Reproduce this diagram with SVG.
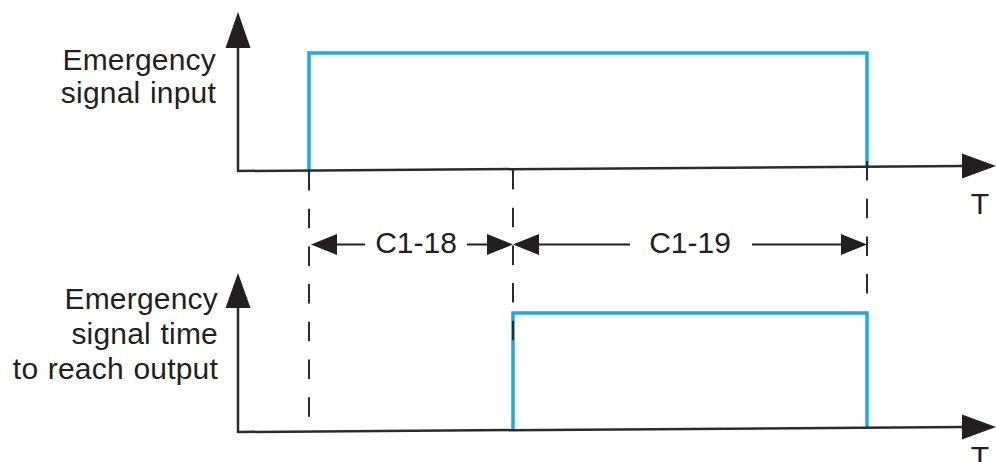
<svg xmlns="http://www.w3.org/2000/svg" width="996" height="462" viewBox="0 0 996 462">
<style>
  .axis { stroke: #2b2b2b; stroke-width: 2.5; fill: none; }
  .head { fill: #231f20; }
  .sig { stroke: #1ea9e1; stroke-width: 3.5; fill: none; stroke-linejoin: miter; }
  .dash { stroke: #2b2b2b; stroke-width: 2; fill: none; stroke-dasharray: 19.5 18.2; }
  .dim { stroke: #231f20; stroke-width: 2; fill: none; }
  .lbl { font-family: "Liberation Sans", Arial, sans-serif; font-size: 30px; fill: #231f20; letter-spacing: 0.2px; word-spacing: 1px; }
  .dl { font-family: "Liberation Sans", Arial, sans-serif; font-size: 30px; fill: #231f20; }
</style>
<rect width="996" height="462" fill="#ffffff"/>

<g id="signals">
  <polyline class="sig" points="309,171 309,53 867,53 867,166"/>
  <polyline class="sig" points="513,430 513,313 867,313 867,427"/>
</g>

<g id="axis-top">
  <line class="axis" x1="238" y1="172" x2="238" y2="44"/>
  <polygon class="head" points="238,12 225.5,48 250.5,48"/>
  <line class="axis" x1="237" y1="171" x2="964" y2="166"/>
  <polygon class="head" points="996,166 962,153.5 962,178.5"/>
  <text class="dl" x="980" y="214" text-anchor="middle">T</text>
</g>

<g id="axis-bottom">
  <line class="axis" x1="238" y1="433" x2="238" y2="304"/>
  <polygon class="head" points="238,273 225.5,308 250.5,308"/>
  <line class="axis" x1="237" y1="432" x2="964" y2="427"/>
  <polygon class="head" points="996,427 962,414.5 962,439.5"/>
  <text class="dl" x="980" y="467" text-anchor="middle">T</text>
</g>

<g id="label-top">
  <text class="lbl" text-anchor="end" x="216" y="70">Emergency</text>
  <text class="lbl" text-anchor="end" x="216" y="103">signal input</text>
</g>

<g id="label-bottom">
  <text class="lbl" text-anchor="end" x="218" y="309">Emergency</text>
  <text class="lbl" text-anchor="end" x="218" y="344">signal time</text>
  <text class="lbl" text-anchor="end" x="218" y="379">to reach output</text>
</g>

<g id="connectors">
  <line class="dash" x1="309" y1="171" x2="309" y2="418"/>
  <line class="dash" x1="513" y1="170" x2="513" y2="341"/>
  <line class="dash" x1="867" y1="161" x2="867" y2="294"/>
</g>

<g id="dim-c1-18">
  <polygon class="head" points="311,244.5 337,234 337,255"/>
  <line class="dim" x1="336" y1="244.5" x2="365" y2="244.5"/>
  <line class="dim" x1="467" y1="244.5" x2="489" y2="244.5"/>
  <polygon class="head" points="513,244.5 487,234 487,255"/>
  <text class="dl" x="416" y="253" text-anchor="middle">C1-18</text>
</g>

<g id="dim-c1-19">
  <polygon class="head" points="513,244.5 539,234 539,255"/>
  <line class="dim" x1="538" y1="244.5" x2="630" y2="244.5"/>
  <line class="dim" x1="752" y1="244.5" x2="841" y2="244.5"/>
  <polygon class="head" points="867,244.5 841,234 841,255"/>
  <text class="dl" x="690" y="253" text-anchor="middle">C1-19</text>
</g>
</svg>
